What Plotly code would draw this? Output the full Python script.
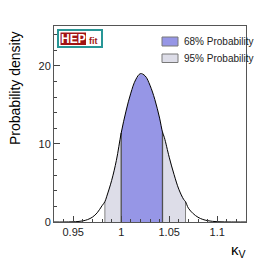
import numpy as np
import plotly.graph_objects as go

# ---- data ----
kappa = [0.930, 0.940, 0.950, 0.955, 0.960, 0.965, 0.970, 0.975, 0.980, 0.983,
         0.985, 0.990, 0.995, 1.000, 1.005, 1.010, 1.015, 1.020, 1.025, 1.030,
         1.035, 1.040, 1.043, 1.045, 1.050, 1.055, 1.060, 1.065, 1.067, 1.070,
         1.075, 1.080, 1.085, 1.090, 1.095, 1.100, 1.105, 1.110, 1.120, 1.130]
density = [0.0, 0.0, 0.03, 0.06, 0.14, 0.31, 0.62, 1.18, 2.08, 2.6,
           3.3, 5.3, 7.9, 11.4, 14.2, 16.5, 18.2, 19.0, 18.7, 17.5,
           15.7, 13.3, 11.5, 10.8, 8.3, 6.1, 4.2, 2.9, 2.6, 1.77,
           1.07, 0.61, 0.33, 0.17, 0.085, 0.04, 0.02, 0.01, 0.0, 0.0]
ci68 = [1.000, 1.043]
ci95 = [0.983, 1.067]
legend_labels = ["68% Probability", "95% Probability"]
x_ticks = [0.95, 1.0, 1.05, 1.1]
x_ticktext = ["0.95", "1", "1.05", "1.1"]
y_ticks = [0, 10, 20]

k = np.array(kappa)
d = np.array(density)

C68 = "rgb(150,150,230)"
C95 = "rgb(221,221,232)"

fig = go.Figure()

m95 = (k >= ci95[0] - 1e-9) & (k <= ci95[1] + 1e-9)
fig.add_trace(go.Scatter(x=k[m95], y=d[m95], mode="lines", fill="tozeroy",
                         fillcolor=C95, line=dict(width=0), showlegend=False,
                         hoverinfo="skip"))
m68 = (k >= ci68[0] - 1e-9) & (k <= ci68[1] + 1e-9)
fig.add_trace(go.Scatter(x=k[m68], y=d[m68], mode="lines", fill="tozeroy",
                         fillcolor=C68, line=dict(width=0), showlegend=False,
                         hoverinfo="skip"))

# boundary lines
for xs, col, w in [(ci95, "rgb(130,130,130)", 1), (ci68, "rgb(80,80,80)", 1.3)]:
    for xv in xs:
        yv = d[np.argmin(np.abs(k - xv))]
        fig.add_trace(go.Scatter(x=[xv, xv], y=[0, yv], mode="lines",
                                 line=dict(color=col, width=w),
                                 showlegend=False, hoverinfo="skip"))

fig.add_trace(go.Scatter(x=k, y=d, mode="lines", line=dict(color="black", width=1, shape="spline"),
                         showlegend=False))

# legend (manual)
ax = lambda px: (px - 54) / 192.0
ay = lambda py: (222 - py) / 196.0
for (y0, y1, col, lab) in [(37, 46, C68, legend_labels[0]), (54, 62.5, C95, legend_labels[1])]:
    fig.add_shape(type="rect", xref="paper", yref="paper",
                  x0=ax(162), x1=ax(178), y0=ay(y1), y1=ay(y0),
                  fillcolor=col, line=dict(color="rgb(120,120,120)", width=1))
    fig.add_annotation(x=ax(182), y=ay((y0 + y1) / 2), xref="paper", yref="paper",
                       text=lab, showarrow=False, xanchor="left", yanchor="middle",
                       font=dict(family="Liberation Sans, Arial", size=10, color="#222"))

# HEPfit logo
fig.add_shape(type="rect", xref="paper", yref="paper",
              x0=ax(58), x1=ax(102), y0=ay(47), y1=ay(30),
              fillcolor="white", line=dict(color="rgb(40,150,150)", width=2))
fig.add_shape(type="rect", xref="paper", yref="paper",
              x0=ax(60.5), x1=ax(86), y0=ay(45), y1=ay(32.5),
              fillcolor="rgb(160,20,20)", line=dict(width=0))
fig.add_annotation(x=ax(73.2), y=ay(38.8), xref="paper", yref="paper", text="<b>HEP</b>",
                   showarrow=False, xanchor="center", yanchor="middle",
                   font=dict(family="Liberation Sans, Arial", size=12, color="white"))
fig.add_annotation(x=ax(93.5), y=ay(41), xref="paper", yref="paper", text="<b>fit</b>",
                   showarrow=False, xanchor="center", yanchor="middle",
                   font=dict(family="Liberation Sans, Arial", size=9, color="rgb(160,20,20)"))

fig.update_layout(
    width=274, height=262,
    margin=dict(l=54, r=28, t=26, b=40),
    paper_bgcolor="white", plot_bgcolor="white",
    font=dict(family="Liberation Sans, Arial", size=11, color="#222"),
)
fig.update_xaxes(range=[0.93, 1.13], tickvals=x_ticks, ticktext=x_ticktext,
                 ticks="inside", ticklen=6, tickcolor="#444",
                 minor=dict(dtick=0.01, ticklen=3, ticks="inside", tickcolor="#444"),
                 showline=True, linecolor="#555", linewidth=1, mirror=True,
                 showgrid=False, zeroline=False,
                 tickfont=dict(size=11))
fig.update_yaxes(range=[0, 25.1], tickvals=y_ticks,
                 ticks="inside", ticklen=6, tickcolor="#444",
                 minor=dict(dtick=2, ticklen=3, ticks="inside", tickcolor="#444"),
                 showline=True, linecolor="#555", linewidth=1, mirror=True,
                 showgrid=False, zeroline=False, tickfont=dict(size=11))
fig.add_annotation(x=(15 - 54) / 192.0, y=ay(88), xref="paper", yref="paper",
                   text="Probability density",
                   showarrow=False, textangle=-90, xanchor="center", yanchor="middle",
                   font=dict(size=14, color="black"))
fig.add_annotation(x=ax(238), y=ay(250), xref="paper", yref="paper", text="κ<sub>V</sub>",
                   showarrow=False, xanchor="center", yanchor="middle",
                   font=dict(size=15, color="black"))

fig.write_html("out.html", config={"displayModeBar": False},
               post_script="document.body.style.margin='0';document.body.style.overflow='hidden';")
